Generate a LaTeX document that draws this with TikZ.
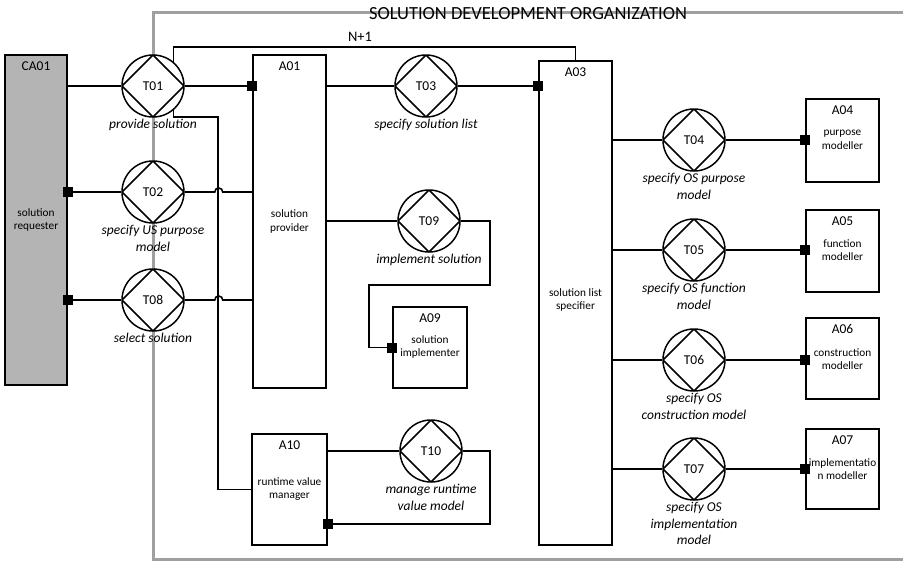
\documentclass[tikz,border=0pt]{standalone}
\usepackage{fontspec}
\setmainfont{Carlito}
\usetikzlibrary{calc}
\definecolor{orgline}{HTML}{A0A0A0}
\definecolor{envfill}{HTML}{B4B4B4}
\tikzset{
  conn/.style={line width=1.6pt, line join=miter},
  trans/.style={circle, draw, line width=1.5pt, fill=white, minimum size=62pt, inner sep=0pt,
    font=\fontsize{13.5}{15}\selectfont,
    path picture={\draw[line width=1.6pt] (path picture bounding box.north) -- (path picture bounding box.east)
      -- (path picture bounding box.south) -- (path picture bounding box.west) -- cycle;}},
  actor/.style={rectangle, draw, line width=1.5pt, fill=white, inner sep=0pt},
  envactor/.style={actor, fill=envfill},
  aid/.style={font=\fontsize{13.5}{15}\selectfont, inner sep=0pt},
  adesc/.style={font=\fontsize{11.3}{13.5}\selectfont, align=center, inner sep=0pt},
  tname/.style={font=\fontsize{13.5}{16.5}\selectfont\itshape, align=center, inner sep=1.5pt},
  sq/.style={rectangle, fill=black, minimum size=10pt, inner sep=0pt},
}
\begin{document}
\begin{tikzpicture}[x=1pt, y=-1pt]
\useasboundingbox (0,0) rectangle (903,566);

% organization boundary (open to the right)
\draw[orgline, line width=3pt] (903,12) -- (153,12) -- (153,559) -- (903,559);
\node[font=\fontsize{18.5}{20}\selectfont, inner sep=0pt] (title) at (528,13.5) {SOLUTION DEVELOPMENT ORGANIZATION};

% actor roles
\node[envactor, minimum width=62pt, minimum height=330pt] (CA01) at (36,220) {};
\node[actor, minimum width=73pt, minimum height=333pt] (A01) at (289.5,221.5) {};
\node[actor, minimum width=73pt, minimum height=484pt] (A03) at (575.5,303) {};
\node[actor, minimum width=74pt, minimum height=81pt] (A09) at (430,347.5) {};
\node[actor, minimum width=75pt, minimum height=111pt] (A10) at (289.5,489.5) {};
\node[actor, minimum width=73pt, minimum height=83pt] (A04) at (842.5,140.5) {};
\node[actor, minimum width=73pt, minimum height=82pt] (A05) at (842.5,251) {};
\node[actor, minimum width=73pt, minimum height=81pt] (A06) at (842.5,358.5) {};
\node[actor, minimum width=73pt, minimum height=80pt] (A07) at (842.5,469) {};

% transactions
\node[trans] (T01) at (153,86) {T01};
\node[trans] (T02) at (153,192) {T02};
\node[trans] (T08) at (153,300) {T08};
\node[trans] (T03) at (426,86) {T03};
\node[trans] (T09) at (429,221) {T09};
\node[trans] (T10) at (431,451) {T10};
\node[trans] (T04) at (694,140) {T04};
\node[trans] (T05) at (694,250) {T05};
\node[trans] (T06) at (694,360) {T06};
\node[trans] (T07) at (694,469) {T07};

% routing points
\coordinate (top) at (0,47);
\coordinate (j1) at (218,117);
\coordinate (j9a) at (490,221);
\coordinate (j9b) at (490,285);
\coordinate (j9c) at (369,285);
\coordinate (j10) at (490,451);

% connectors
\draw[conn] (CA01.east |- T01) -- (T01.west);
\draw[conn] (T01.east) -- (A01.west |- T01);
\draw[conn] (T01.50) |- (A03.north |- top) -- (A03.north);
\draw[conn] (T01.-50) |- (j1) |- (A10.west);
\draw[conn] (CA01.east |- T02) -- (T02.west);
\draw[conn] (T02.east) -- ++(30,0) arc[start angle=180, end angle=360, radius=4] -- (A01.west |- T02);
\draw[conn] (CA01.east |- T08) -- (T08.west);
\draw[conn] (T08.east) -- ++(30,0) arc[start angle=180, end angle=360, radius=4] -- (A01.west |- T08);
\draw[conn] (A01.east |- T03) -- (T03.west);
\draw[conn] (T03.east) -- (A03.west |- T03);
\draw[conn] (A01.east |- T09) -- (T09.west);
\draw[conn] (T09.east) -- (j9a) -- (j9b) -- (j9c) |- (A09.west);
\draw[conn] (A10.east |- T10) -- (T10.west);
\draw[conn] (T10.east) -- (j10) |- (A10.east |- 0,524);
\foreach \t/\a in {T04/A04, T05/A05, T06/A06, T07/A07}{
  \draw[conn] (A03.east |- \t) -- (\t.west);
  \draw[conn] (\t.east) -- (\t -| \a.west);
}

% execution markers
\node[sq] (s01) at (A01.west |- T01) {};
\node[sq] (s02) at (CA01.east |- T02) {};
\node[sq] (s08) at (CA01.east |- T08) {};
\node[sq] (s03) at (A03.west |- T03) {};
\node[sq] (s09) at (A09.west) {};
\node[sq] (s10) at (A10.east |- 0,524) {};
\node[sq] (s04) at (T04 -| A04.west) {};
\node[sq] (s05) at (T05 -| A05.west) {};
\node[sq] (s06) at (T06 -| A06.west) {};
\node[sq] (s07) at (T07 -| A07.west) {};

% connector label
\node[font=\fontsize{14.5}{16}\selectfont, inner sep=0pt] (n1) at (360,37) {N+1};

% actor identifiers
\foreach \a in {CA01, A01, A03, A09, A10, A04, A05, A06, A07}{
  \node[aid] (\a id) at ($(\a.north)+(0,11.5)$) {\a};
}

% actor descriptions
\node[adesc] (CA01d) at (CA01.center) {solution\\requester};
\node[adesc] (A01d) at (A01.center) {solution\\provider};
\node[adesc] (A03d) at (575.5,300) {solution list\\specifier};
\node[adesc] (A09d) at (430,347) {solution\\implementer};
\node[adesc] (A10d) at (289.5,489) {runtime value\\manager};
\node[adesc] (A04d) at (842.5,140) {purpose\\modeller};
\node[adesc] (A05d) at (842.5,250) {function\\modeller};
\node[adesc] (A06d) at (842.5,359) {construction\\modeller};
\node[adesc] (A07d) at (842.5,469) {implementatio\\n modeller};

% transaction names
\node[tname, below] (T01n) at (T01.south) {provide solution};
\node[tname, below] (T02n) at (T02.south) {specify US purpose\\model};
\node[tname, below] (T08n) at (T08.south) {select solution};
\node[tname, below] (T03n) at (T03.south) {specify solution list};
\node[tname, below] (T09n) at (T09.south) {implement solution};
\node[tname, below] (T10n) at (T10.south) {manage runtime\\value model};
\node[tname, below] (T04n) at (T04.south) {specify OS purpose\\model};
\node[tname, below] (T05n) at (T05.south) {specify OS function\\model};
\node[tname, below] (T06n) at (T06.south) {specify OS\\construction model};
\node[tname, below] (T07n) at (T07.south) {specify OS\\implementation\\model};
\end{tikzpicture}
\end{document}
